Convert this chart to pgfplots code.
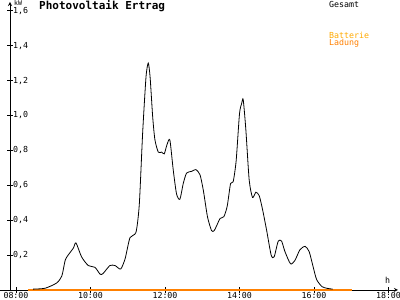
\documentclass[border=0pt]{standalone}
\usepackage{fontspec}
\usepackage{pgfplots}
\pgfplotsset{compat=1.18}
\setmainfont{DejaVu Sans Mono}
\definecolor{ladung}{HTML}{FF8000}
\definecolor{batterie}{HTML}{FFAA00}
\begin{document}
\begin{tikzpicture}[x=1pt,y=1pt]
\useasboundingbox (0,0) rectangle (400,300);
\fill[white] (0,0) rectangle (400,300);
\begin{axis}[
  at={(10pt,10pt)}, anchor=south west,
  scale only axis, width=388pt, height=288pt,
  xmin=7.839, xmax=18.255, ymin=0, ymax=1.65,
  clip=false,
  axis lines=left,
  axis line style={line width=0.8pt},
  x axis line style={-stealth, shorten <=-10pt},
  y axis line style={-stealth},
  xtick={8,10,12,14,16,18},
  xticklabels={08:00,10:00,12:00,14:00,16:00,18:00},
  ytick={0.2,0.4,0.6,0.8,1.0,1.2,1.4,1.6},
  tick align=center,
  major tick length=6pt,
  tick style={line width=0.8pt, black},
  /pgf/number format/assume math mode=true,
  /pgf/number format/use comma,
  /pgf/number format/fixed,
  /pgf/number format/fixed zerofill,
  /pgf/number format/precision=1,
  ticklabel style={font=\fontsize{8.3}{9}\selectfont, inner sep=0pt},
  yticklabel style={anchor=west, xshift=6pt},
  xticklabel style={anchor=north, yshift=0.5pt},
]
\addplot[ladung, line width=1.6pt] coordinates {(8.32,0) (17.02,0)};
\addplot[black, line width=0.8pt, smooth, tension=0.4] coordinates {
(8.46,0.005) (8.78,0.01) (9.09,0.04) (9.23,0.08) (9.32,0.17) (9.40,0.20)
(9.54,0.24) (9.61,0.27) (9.76,0.19) (9.94,0.14) (10.12,0.13) (10.26,0.09)
(10.34,0.095) (10.52,0.14) (10.66,0.14) (10.81,0.12) (10.93,0.18) (11.06,0.30)
(11.22,0.33) (11.31,0.49) (11.40,0.90) (11.49,1.22) (11.55,1.30) (11.60,1.22)
(11.67,0.99) (11.73,0.86) (11.82,0.79) (11.91,0.79) (11.98,0.78) (12.05,0.83)
(12.13,0.86) (12.22,0.69) (12.31,0.55) (12.40,0.52) (12.49,0.61) (12.58,0.67)
(12.72,0.68) (12.83,0.69) (12.94,0.66) (13.03,0.57) (13.14,0.42) (13.25,0.34)
(13.32,0.34) (13.39,0.37) (13.48,0.41) (13.58,0.42) (13.67,0.48) (13.76,0.61)
(13.83,0.62) (13.91,0.74) (14.00,1.01) (14.06,1.07) (14.10,1.09) (14.17,0.92)
(14.26,0.63) (14.35,0.53) (14.44,0.56) (14.53,0.54) (14.62,0.46) (14.73,0.34)
(14.85,0.20) (14.93,0.19) (15.04,0.28) (15.13,0.28) (15.22,0.22) (15.37,0.15)
(15.49,0.17) (15.62,0.23) (15.76,0.25) (15.87,0.22) (15.98,0.13) (16.07,0.06)
(16.21,0.02) (16.34,0.01) (16.50,0.005)};
\end{axis}
\node[anchor=base west, inner sep=0pt, font=\fontsize{11}{12}\selectfont\bfseries] at (39,290) {Photovoltaik Ertrag};
\node[anchor=base west, inner sep=0pt, font=\fontsize{6.5}{7}\selectfont] at (14,294) {kW};
\node[anchor=base west, inner sep=0pt, font=\fontsize{8.3}{9}\selectfont] at (329,292.7) {Gesamt};
\node[anchor=base west, inner sep=0pt, font=\fontsize{8.3}{9}\selectfont, text=batterie] at (329,261.3) {Batterie};
\node[anchor=base west, inner sep=0pt, font=\fontsize{8.3}{9}\selectfont, text=ladung] at (329,254) {Ladung};
\node[anchor=base west, inner sep=0pt, font=\fontsize{8.3}{9}\selectfont] at (385,16) {h};
\end{tikzpicture}
\end{document}
